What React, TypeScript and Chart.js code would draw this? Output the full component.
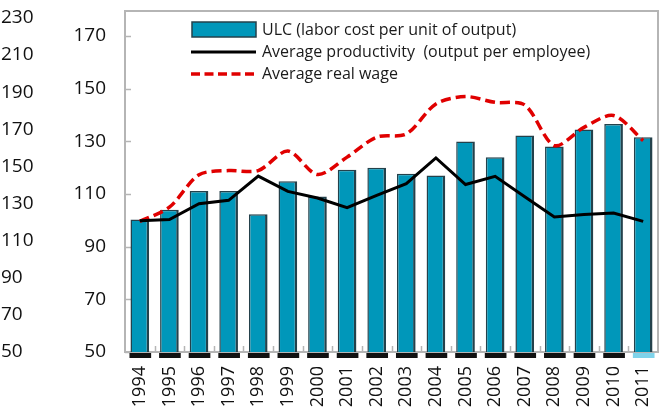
import React, { useEffect, useRef } from 'react';
import { Chart, registerables } from 'chart.js';

Chart.register(...registerables);

const years = ['1994', '1995', '1996', '1997', '1998', '1999', '2000', '2001', '2002', '2003', '2004', '2005', '2006', '2007', '2008', '2009', '2010', '2011'];
const ulc = [100.3, 104.0, 111.1, 111.1, 102.3, 114.8, 109.1, 119.2, 120.0, 117.7, 117.0, 129.9, 124.0, 132.2, 128.0, 134.5, 136.6, 131.6];
const productivity = [99.8, 100.3, 106.3, 107.6, 116.8, 111.0, 108.5, 104.8, 109.5, 113.9, 123.7, 113.6, 116.7, 109.0, 101.3, 102.2, 102.8, 99.6];
const realWage = [99.6, 105.0, 117.3, 118.9, 118.9, 126.3, 117.4, 124.0, 131.6, 132.8, 144.2, 147.0, 144.8, 143.8, 128.4, 135.3, 139.8, 130.3];
const innerTicks = [50, 70, 90, 110, 130, 150, 170];
const outerTicks = [50, 70, 90, 110, 130, 150, 170, 190, 210, 230];
const legendLabels = ['ULC (labor cost per unit of output)', 'Average productivity  (output per employee)', 'Average real wage'];

const FONT = "'Open Sans', 'DejaVu Sans', sans-serif";
const BAR_COLOR = '#0097ba';
const BAR_BORDER = '#24414b';
const RED = '#e00000';
const GRAY = '#b5b5b5';

const decor = {
  id: 'decor',
  beforeDatasetsDraw(chart: any) {
    const { ctx, chartArea: a } = chart;
    ctx.save();
    ctx.strokeStyle = GRAY;
    ctx.lineWidth = 2;
    ctx.strokeRect(a.left, a.top, a.right - a.left, a.bottom - a.top);
    const y = chart.scales.yIn;
    ctx.lineWidth = 1.5;
    innerTicks.forEach((v) => {
      const py = Math.round(y.getPixelForValue(v)) + 0.5;
      ctx.beginPath();
      ctx.moveTo(a.left, py);
      ctx.lineTo(a.left + 6, py);
      ctx.stroke();
    });
    const x = chart.scales.x;
    for (let i = 0; i < years.length - 1; i++) {
      const px = Math.round((x.getPixelForValue(i) + x.getPixelForValue(i + 1)) / 2) + 0.5;
      ctx.beginPath();
      ctx.moveTo(px, a.bottom);
      ctx.lineTo(px, a.bottom - 6);
      ctx.stroke();
    }
    ctx.restore();
  },
  afterDatasetsDraw(chart: any) {
    const { ctx, chartArea: a } = chart;
    const meta = chart.getDatasetMeta(2);
    ctx.save();
    meta.data.forEach((bar: any, i: number) => {
      const w = bar.width;
      ctx.fillStyle = i === meta.data.length - 1 ? '#7fd3ea' : '#111111';
      ctx.fillRect(bar.x - w / 2 - 1, a.bottom + 1, w + 3, 5);
    });
    ctx.restore();
  },
  afterDraw(chart: any) {
    const { ctx } = chart;
    ctx.save();
    const sx0 = 191;
    const sx1 = 256;
    ctx.fillStyle = BAR_COLOR;
    ctx.fillRect(sx0 + 1, 22, sx1 - sx0 - 1, 15);
    ctx.strokeStyle = BAR_BORDER;
    ctx.lineWidth = 1.5;
    ctx.strokeRect(sx0 + 1, 22, sx1 - sx0 - 1, 15);
    ctx.strokeStyle = '#000';
    ctx.lineWidth = 3;
    ctx.beginPath();
    ctx.moveTo(sx0, 52);
    ctx.lineTo(sx1, 52);
    ctx.stroke();
    ctx.strokeStyle = RED;
    ctx.lineWidth = 3.5;
    ctx.setLineDash([9, 4.5]);
    ctx.beginPath();
    ctx.moveTo(sx0, 74);
    ctx.lineTo(sx1, 74);
    ctx.stroke();
    ctx.setLineDash([]);
    ctx.fillStyle = '#1a1a1a';
    ctx.font = `16px ${FONT}`;
    ctx.textBaseline = 'middle';
    ctx.textAlign = 'left';
    const rows = [30, 52, 74];
    legendLabels.forEach((t, i) => ctx.fillText(t, 262, rows[i]));
    ctx.restore();
  },
};

export default function App() {
  const ref = useRef<HTMLCanvasElement>(null);
  useEffect(() => {
    document.body.style.margin = '0';
    const chart = new Chart(ref.current!, {
      type: 'bar',
      data: {
        labels: years,
        datasets: [
          {
            type: 'line',
            label: legendLabels[1],
            data: productivity,
            yAxisID: 'yIn',
            borderColor: '#000000',
            borderWidth: 3,
            pointRadius: 0,
            tension: 0,
            fill: false,
            order: 1,
          } as any,
          {
            type: 'line',
            label: legendLabels[2],
            data: realWage,
            yAxisID: 'yIn',
            borderColor: RED,
            borderWidth: 3.5,
            borderDash: [10, 5],
            pointRadius: 0,
            tension: 0.3,
            fill: false,
            order: 2,
          } as any,
          {
            type: 'bar',
            label: legendLabels[0],
            data: ulc,
            yAxisID: 'yIn',
            backgroundColor: BAR_COLOR,
            borderColor: BAR_BORDER,
            borderWidth: { top: 1.5, left: 1.5, right: 2.5, bottom: 0 },
            categoryPercentage: 1,
            barPercentage: 0.63,
            order: 3,
          } as any,
        ],
      },
      options: {
        responsive: false,
        animation: false,
        layout: { padding: { left: 1, top: 11, right: 7, bottom: 0 } },
        plugins: { legend: { display: false }, tooltip: { enabled: false } },
        scales: {
          x: {
            offset: true,
            grid: { display: false, drawTicks: false },
            border: { display: false },
            ticks: {
              autoSkip: false,
              maxRotation: 90,
              minRotation: 90,
              padding: 14,
              color: '#111',
              font: { family: FONT, size: 18 },
            },
            afterFit(s: any) {
              s.height = 67;
              s.paddingLeft = 0;
              s.paddingRight = 0;
            },
          },
          yIn: {
            axis: 'y',
            position: 'left',
            weight: 0,
            min: 50,
            max: 179.5,
            afterBuildTicks(s: any) {
              s.ticks = innerTicks.map((v) => ({ value: v }));
            },
            grid: { display: false, drawTicks: false },
            border: { display: false },
            ticks: { padding: 19, color: '#111', font: { family: FONT, size: 19 } },
            afterFit(s: any) {
              s.width = 85;
              s.paddingTop = 0;
              s.paddingBottom = 0;
            },
          },
          yOut: {
            axis: 'y',
            position: 'left',
            weight: 1,
            min: 50,
            max: 233.7,
            afterBuildTicks(s: any) {
              s.ticks = outerTicks.map((v) => ({ value: v }));
            },
            grid: { display: false, drawTicks: false },
            border: { display: false },
            ticks: { padding: 0, crossAlign: 'far', color: '#111', font: { family: FONT, size: 19 } },
            afterFit(s: any) {
              s.width = 39;
              s.paddingTop = 0;
              s.paddingBottom = 0;
            },
          },
        } as any,
      },
      plugins: [decor],
    });
    return () => chart.destroy();
  }, []);
  return (
    <div style={{ width: 665, height: 419 }}>
      <canvas ref={ref} width={665} height={419} style={{ display: 'block' }} />
    </div>
  );
}
